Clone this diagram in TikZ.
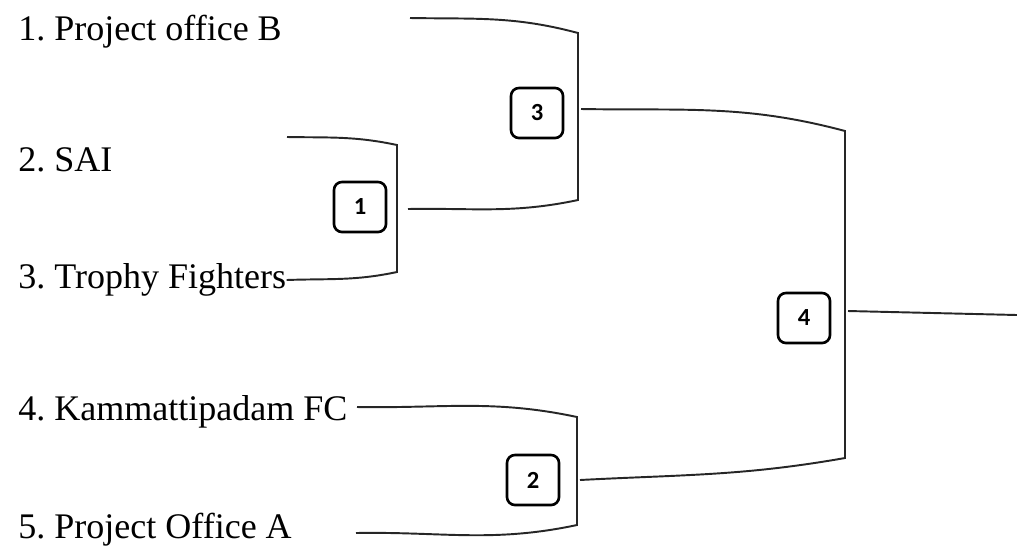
\documentclass[tikz,border=0pt]{standalone}
\usepackage{fontspec}
\setmainfont{Liberation Serif}
\newfontfamily\numfont{Carlito}
\frenchspacing
\begin{document}
\begin{tikzpicture}[x=0.02cm,y=0.02cm,
    team/.style={anchor=west,inner sep=0pt,font=\fontsize{20.5}{24}\selectfont},
    game/.style={draw,rounded corners=4.5pt,line width=1.5pt,minimum width=1.04cm,minimum height=1cm,font=\numfont\bfseries\fontsize{14}{16}\selectfont},
    bracket/.style={line width=1.1pt,draw=black!85}]
        \useasboundingbox (0,0) rectangle (1017,-552);
        \node[team](A) at (18,-32) {1. Project office B};
        \node[team](B) at (18,-160) {2. SAI};
        \node[team](C) at (18,-280) {3. Trophy Fighters};
        \node[team](D) at (18,-412) {4. Kammattipadam FC};
        \node[team](E) at (18,-530) {5. Project Office A};
        \node[game](G1) at (360,-207) {1};
        \node[game](G2) at (533,-480) {2};
        \node[game](G3) at (537,-113) {3};
        \node[game](G4) at (804,-318) {4};
        \coordinate (a) at (410,-18);
        \coordinate (b) at (287,-137);
        \coordinate (d) at (357,-407);
        \coordinate (e) at (356,-533);
        \coordinate (w1) at (408,-209);
        \coordinate (w2) at (580,-480);
        \coordinate (w3) at (581,-109);
        \coordinate (w4) at (848,-311);
        \coordinate (final) at (1017,-315);
        \draw[bracket] (b) to[out=-1,in=168] (397,-145) -- (397,-272) to[out=192,in=2] (C.east);
        \draw[bracket] (d) to[out=-1,in=168] (577,-417) -- (577,-525) to[out=192,in=1] (e);
        \draw[bracket] (a) to[out=-1,in=165] (578,-33) -- (578,-200) to[out=192,in=1] (w1);
        \draw[bracket] (w3) to[out=-1,in=165] (845,-131) -- (845,-458) to[out=190,in=3] (w2);
        \draw[bracket] (w4) -- (final);
    \end{tikzpicture}
\end{document}
